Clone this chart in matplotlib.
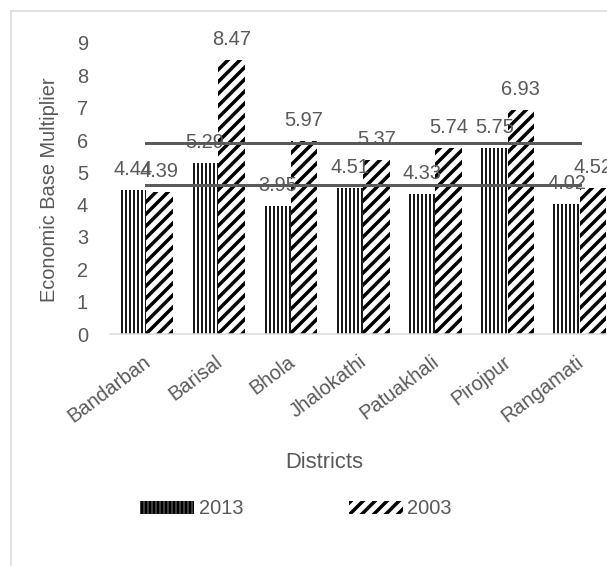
import numpy as np
import matplotlib
matplotlib.use("Agg")
import matplotlib.pyplot as plt
import matplotlib.transforms as mtransforms
from matplotlib.lines import Line2D

# Values
districts = ["Bandarban", "Barisal", "Bhola", "Jhalokathi", "Patuakhali", "Pirojpur", "Rangamati"]
vals_2013 = [4.44, 5.29, 3.95, 4.51, 4.33, 5.75, 4.02]
vals_2003 = [4.39, 8.47, 5.97, 5.37, 5.74, 6.93, 4.52]
y_ticks = [0, 1, 2, 3, 4, 5, 6, 7, 8, 9]

plt.rcParams["font.family"] = ["Liberation Sans", "DejaVu Sans"]
txt_col = "#595959"
grey = "#d9d9d9"

# dpi 72 so that 1 pt == 1 px
W, H = 607, 566
fig = plt.figure(figsize=(W / 72, H / 72), dpi=72)

# axes: x from 110px to 616px (runs past the right edge), y from 43px to 334px
ax = fig.add_axes([110 / W, (H - 334) / H, (616 - 110) / W, (334 - 43) / H])

x = np.arange(len(districts))
bw = 0.367
lw13, lw03 = 1.8, 3.5

plt.rcParams["hatch.linewidth"] = lw13
b13 = ax.bar(x - bw / 2, vals_2013, bw, color="white", edgecolor="black", linewidth=0, hatch="|||", label="2013")
plt.rcParams["hatch.linewidth"] = lw03
b03 = ax.bar(x + bw / 2, vals_2003, bw, color="white", edgecolor="black", linewidth=0, hatch="//", label="2003")
for p in b13:
    if hasattr(p, "set_hatch_linewidth"):
        p.set_hatch_linewidth(lw13)
for p in b03:
    if hasattr(p, "set_hatch_linewidth"):
        p.set_hatch_linewidth(lw03)

ax.bar_label(b13, fmt="%.2f", padding=11, fontsize=20, color=txt_col)
ax.bar_label(b03, fmt="%.2f", padding=11, fontsize=20, color=txt_col)

# average lines for each year
ax.plot(x, np.full(len(x), np.mean(vals_2003)), color="#5a5a5a", lw=3, zorder=5)
ax.plot(x, np.full(len(x), np.mean(vals_2013)), color="#5a5a5a", lw=3, zorder=5)

ax.set_xlim(-0.5, len(districts) - 0.5)
ax.set_ylim(0, 9)
ax.set_yticks(y_ticks)
ax.tick_params(axis="y", length=0, pad=22, labelsize=20, labelcolor=txt_col)
ax.tick_params(axis="x", length=0, pad=30, labelsize=20, labelcolor=txt_col)
ax.set_xticks(x)
ax.set_xticklabels(districts, rotation=37, ha="right", va="baseline", rotation_mode="anchor")
shift = mtransforms.ScaledTranslation(5 / 72, 0, fig.dpi_scale_trans)
for lab in ax.get_xticklabels():
    lab.set_transform(lab.get_transform() + shift)

for s in ["top", "right", "left"]:
    ax.spines[s].set_visible(False)
ax.spines["bottom"].set_color(grey)
ax.spines["bottom"].set_linewidth(1.5)

ax.set_xlabel("Districts", fontsize=22, color=txt_col)
ax.xaxis.set_label_coords((324 - 110) / 506, (334 - 452) / 291)
fig.text(50 / W, 1 - 190 / H, "Economic Base Multiplier", rotation=90, ha="center", va="center",
         fontsize=20, color=txt_col)

# chart frame (cut off at right and bottom)
fig.add_artist(Line2D([10.5 / W, 10.5 / W], [0, 1 - 10.5 / H], color=grey, lw=1.5, transform=fig.transFigure))
fig.add_artist(Line2D([10.5 / W, 1], [1 - 10.5 / H, 1 - 10.5 / H], color=grey, lw=1.5, transform=fig.transFigure))

handles = [b13.patches[0], b03.patches[0]]
leg = fig.legend(handles, ["2013", "2003"], loc="center left", bbox_to_anchor=(140 / W, 1 - 509 / H),
                 ncol=2, frameon=False, fontsize=20, handlelength=2.7, handleheight=0.6,
                 handletextpad=0.25, columnspacing=5.25, borderpad=0, borderaxespad=0)
for t in leg.get_texts():
    t.set_color(txt_col)

fig.savefig("out.png", dpi=72)
